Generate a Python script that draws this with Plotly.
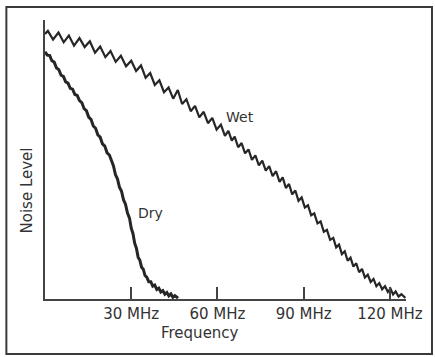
import plotly.graph_objects as go

# noise curves, frequency in MHz, level in arbitrary units (0-100)
WET_FREQ = [0.0, 1.0, 2.8, 4.7, 6.5, 8.3, 10.1, 12.0, 13.8, 15.6, 17.4, 19.2, 21.0, 22.8, 24.6, 26.4,
            28.2, 30.0, 31.7, 33.4, 35.0, 36.6, 38.2, 39.8, 41.4, 43.0, 44.6, 46.2, 47.7, 49.2, 50.7,
            52.2, 53.7, 55.2, 56.7, 58.2, 59.7, 61.2, 62.6, 63.8, 65.0, 66.0, 67.2, 68.4, 69.6, 70.8,
            72.0, 73.2, 74.4, 75.6, 76.8, 78.0, 79.2, 80.4, 81.6, 82.7, 83.8, 84.9, 86.0, 87.1, 88.2,
            89.3, 90.4, 91.5, 92.6, 93.7, 94.8, 95.9, 97.0, 98.1, 99.2, 100.3, 101.3, 102.3, 103.3,
            104.3, 105.3, 106.3, 107.3, 108.3, 109.3, 110.3, 111.3, 112.3, 113.3, 114.3, 115.3, 116.3,
            117.3, 118.3, 119.3, 120.2, 121.1, 122.0, 123.0, 124.0, 125.4]
WET_LEVEL = [95.0, 96.1, 93.0, 95.5, 92.0, 94.4, 90.8, 93.5, 90.3, 92.4, 88.3, 90.5, 86.7, 88.9, 85.0, 87.2,
             83.4, 85.4, 81.7, 83.7, 79.3, 81.0, 76.7, 78.4, 74.1, 75.8, 71.8, 74.9, 69.9, 71.6, 67.3,
             69.2, 65.1, 67.1, 63.0, 64.9, 60.7, 62.5, 58.5, 60.3, 56.8, 58.2, 54.4, 55.9, 52.2, 53.6,
             49.9, 51.5, 47.9, 49.6, 46.0, 47.6, 44.0, 45.8, 42.0, 43.6, 39.8, 41.2, 37.5, 38.9, 35.2,
             36.4, 32.8, 33.6, 30.0, 30.7, 27.1, 27.8, 24.1, 24.8, 21.2, 21.9, 18.5, 19.5, 16.1,
             17.1, 13.7, 14.8, 11.6, 12.8, 9.6, 10.8, 7.7, 8.7, 6.1, 7.2, 4.6, 5.7,
             3.5, 4.6, 2.5, 3.7, 1.6, 2.7, 0.9, 1.7, 0.4]

DRY_FREQ = [0.0, 0.8, 1.6, 2.4, 3.2, 4.0, 4.8, 5.6, 6.4, 7.2, 8.0, 8.8, 9.6, 10.4, 11.2, 12.0, 12.8,
            13.6, 14.4, 15.2, 16.0, 16.8, 17.6, 18.4, 19.2, 20.0, 20.8, 21.6, 22.4, 23.1, 23.8, 24.5,
            25.2, 25.9, 26.6, 27.3, 28.0, 28.7, 29.4, 30.0, 30.6, 31.2, 31.8, 32.4, 33.0, 33.6, 34.2,
            34.8, 35.4, 36.1, 36.8, 37.5, 38.2, 38.9, 39.6, 40.3, 41.0, 41.7, 42.4, 43.1, 43.8, 44.5,
            45.2, 46.3]
DRY_LEVEL = [88.6, 87.4, 87.3, 85.4, 84.9, 82.8, 82.2, 80.2, 79.8, 77.8, 77.4, 75.5, 75.2, 73.3, 73.0, 71.1, 70.4,
             68.2, 67.5, 65.2, 64.4, 62.0, 61.2, 58.8, 58.0, 55.6, 54.8, 52.4, 51.6, 49.4, 47.8, 44.6,
             43.1, 40.1, 38.7, 35.6, 34.0, 30.8, 29.0, 25.4, 23.5, 20.0, 18.2, 15.0, 13.9, 11.4, 10.7,
             8.4, 7.8, 6.2, 6.2, 4.6, 5.0, 3.4, 3.9, 2.5, 3.0, 1.7, 2.3, 1.1, 1.8, 0.6,
             1.2, 0.3]

TICK_VALS = [30, 60, 90, 120]
TICK_TEXT = ["30 MHz", "60 MHz", "90 MHz", "120 MHz"]

FONT = "DejaVu Sans"
INK = "#262626"

fig = go.Figure()
fig.add_trace(go.Scatter(x=WET_FREQ, y=WET_LEVEL, mode="lines",
                         line=dict(color=INK, width=2.2), hoverinfo="skip"))
fig.add_trace(go.Scatter(x=DRY_FREQ, y=DRY_LEVEL, mode="lines",
                         line=dict(color=INK, width=3), hoverinfo="skip"))

fig.add_annotation(x=67.8, y=65.2, text="Wet", showarrow=False, font=dict(size=14))
fig.add_annotation(x=36.6, y=30.8, text="Dry", showarrow=False, font=dict(size=14))
fig.add_annotation(x=0.43, y=-0.122, xref="paper", yref="paper", text="Frequency",
                   xanchor="center", yanchor="middle", showarrow=False, font=dict(size=15))
fig.add_annotation(x=-0.049, y=0.39, xref="paper", yref="paper", text="Noise Level",
                   xanchor="center", yanchor="middle", textangle=-90,
                   showarrow=False, font=dict(size=15))

# outer frame round the whole picture
fig.add_shape(type="rect", xref="paper", yref="paper",
              x0=-0.107, x1=1.072, y0=-0.197, y1=1.047,
              line=dict(color="#3a3a3a", width=2))

fig.update_layout(
    width=435, height=357,
    margin=dict(l=45, r=29, t=20, b=58),
    paper_bgcolor="white", plot_bgcolor="white",
    showlegend=False,
    font=dict(family=FONT, color="#333333", size=14),
    xaxis=dict(range=[0, 125.6], showgrid=False, zeroline=False,
               showline=True, linecolor="#444444", linewidth=1.5,
               tickvals=TICK_VALS, ticktext=TICK_TEXT,
               ticks="inside", ticklen=12, tickwidth=1.5, tickcolor="#444444",
               tickfont=dict(size=15)),
    yaxis=dict(range=[0, 100], showgrid=False, zeroline=False,
               showline=True, linecolor="#444444", linewidth=1.5,
               showticklabels=False, ticks=""),
)

# page body margin would shift the figure by 8px
fig.write_html("out.html", config={"displayModeBar": False},
               post_script="document.body.style.margin='0';")
